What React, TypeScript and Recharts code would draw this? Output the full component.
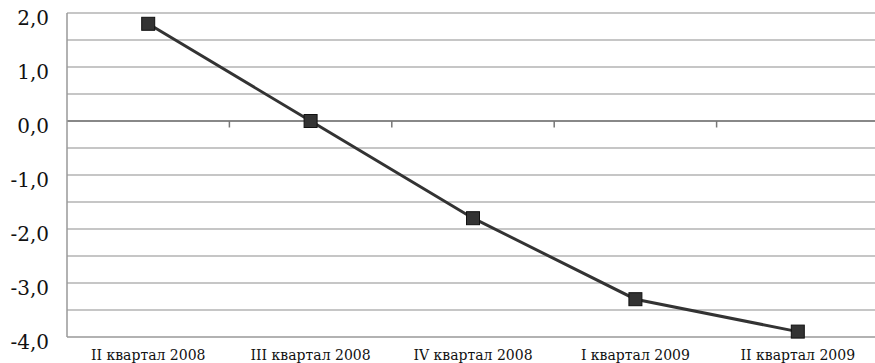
import React from "react";
import { LineChart, Line, XAxis, YAxis, ReferenceLine } from "recharts";

const categories = [
  "II квартал 2008",
  "III квартал 2008",
  "IV квартал 2008",
  "I квартал 2009",
  "II квартал 2009",
];
const values = [1.8, 0.0, -1.8, -3.3, -3.9];
const yTicks = [-4, -3, -2, -1, 0, 1, 2];
const gridValues = [-3.5, -3, -2.5, -2, -1.5, -1, -0.5, 0.5, 1, 1.5, 2];
const boundaryTicks = [1, 2, 3, 4];
const xTicks = [0.5, 1.5, 2.5, 3.5, 4.5];

const data = categories.map((name, i) => ({ x: i + 0.5, name, value: values[i] }));

const FONT = "'DejaVu Serif', serif";

const fmt = (v: number) => v.toFixed(1).replace(".", ",");

function YTick({ x, y, payload }: any) {
  return (
    <text x={x} y={y + 12} textAnchor="end" fontFamily={FONT} fontSize={20} fill="#111">
      {fmt(payload.value)}
    </text>
  );
}

function XTick({ x, y, payload }: any) {
  return (
    <text x={x} y={y + 23} textAnchor="middle" fontFamily={FONT} fontSize={14} fill="#111">
      {categories[Math.round(payload.value - 0.5)]}
    </text>
  );
}

function SquareDot({ cx, cy }: any) {
  return <rect x={cx - 6.5} y={cy - 6.5} width={13} height={13} fill="#333" stroke="#111" strokeWidth={1} />;
}

export default function App() {
  return (
    <div
      style={{
        position: "absolute",
        left: 0,
        top: 0,
        width: 875,
        height: 363,
        overflow: "hidden",
        background: "#fff",
      }}
    >
      <LineChart width={879} height={363} data={data} margin={{ top: 13, right: 0, bottom: 0, left: 0 }}>
        {gridValues.map((v) => (
          <ReferenceLine key={v} y={v} stroke="#b3b3b3" strokeWidth={1.5} />
        ))}
        <ReferenceLine y={0} stroke="#888" strokeWidth={2} />
        {boundaryTicks.map((b) => (
          <ReferenceLine
            key={"t" + b}
            segment={[
              { x: b, y: 0 },
              { x: b, y: -0.12 },
            ]}
            stroke="#777"
            strokeWidth={1.5}
          />
        ))}
        <XAxis
          type="number"
          dataKey="x"
          domain={[0, 5]}
          ticks={xTicks}
          height={26}
          tickSize={0}
          tickMargin={0}
          tickLine={false}
          axisLine={{ stroke: "#999", strokeWidth: 1.5 }}
          tick={<XTick />}
          interval={0}
        />
        <YAxis
          domain={[-4, 2]}
          ticks={yTicks}
          width={67}
          tickSize={0}
          tickMargin={18}
          tickLine={false}
          axisLine={{ stroke: "#999", strokeWidth: 1.5 }}
          tick={<YTick />}
          interval={0}
        />
        <Line
          type="linear"
          dataKey="value"
          stroke="#333"
          strokeWidth={3}
          dot={<SquareDot />}
          activeDot={false}
          isAnimationActive={false}
        />
      </LineChart>
    </div>
  );
}
